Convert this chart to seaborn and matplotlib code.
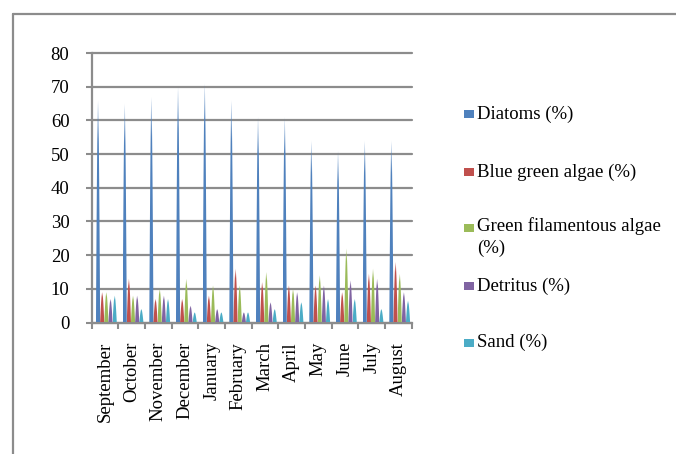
import numpy as np
import pandas as pd
import matplotlib
matplotlib.use("Agg")
import matplotlib.pyplot as plt
from matplotlib.patches import Polygon, Rectangle
from matplotlib.lines import Line2D
from matplotlib.colors import to_rgb
import seaborn as sns

# Monthly diet composition (%)
months = ["September", "October", "November", "December", "January", "February",
          "March", "April", "May", "June", "July", "August"]
series = ["Diatoms (%)", "Blue green algae (%)", "Green filamentous algae (%)",
          "Detritus (%)", "Sand (%)"]
legend_labels = ["Diatoms (%)", "Blue green algae (%)", "Green filamentous algae\n(%)",
                 "Detritus (%)", "Sand (%)"]

diatoms = [66, 65, 67, 70, 71, 66, 61, 61, 54, 51, 54, 54]
blue_green = [9, 13, 7, 7, 8, 16, 12, 11, 11, 9, 14.5, 18]
green_filamentous = [9, 8, 10, 13, 11, 11, 15, 10, 14, 22, 16, 14.5]
detritus = [7, 8, 8, 5, 4, 3, 6, 9, 11, 12.5, 13, 9]
sand = [8, 4, 7, 3, 3, 3, 4, 6, 7, 7, 4, 6.5]

colors = ["#4F81BD", "#C0504D", "#9BBB59", "#8064A2", "#4BACC6"]

df = pd.DataFrame({
    "Month": np.tile(months, len(series)),
    "Series": np.repeat(series, len(months)),
    "Value": np.concatenate([diatoms, blue_green, green_filamentous, detritus, sand]),
})

sns.set_theme(style="white")
plt.rcParams["font.family"] = ["Liberation Serif", "DejaVu Serif"]
plt.rcParams["text.color"] = "black"
plt.rcParams["xtick.color"] = "black"
plt.rcParams["ytick.color"] = "black"

FS = 13.5
W, H = 676, 454
fig = plt.figure(figsize=(W / 100, H / 100), dpi=100)
fig.patch.set_facecolor("white")

# plot area in pixels: x 91.7..411.7, y 53..322.5
ax = fig.add_axes([91.7 / W, (H - 322.5) / H, 320 / W, 269.5 / H])

sns.barplot(data=df, x="Month", y="Value", hue="Series", order=months,
            hue_order=series, palette=colors, width=0.78, errorbar=None,
            legend=False, ax=ax)

# turn each bar into a cone-like spike with a fading tip
shift = 0.05
n = 64
t = np.linspace(0, 1, n)
alpha = np.where(t < 0.82, 1.0, 1.0 - (t - 0.82) / 0.18 * 0.75)
profile_y = np.linspace(0, 1, 40)
profile_w = (1 - profile_y) ** 0.6
for container, color in zip(ax.containers, colors):
    grad = np.zeros((n, 1, 4))
    grad[..., :3] = to_rgb(color)
    grad[:, 0, 3] = alpha
    for bar in container:
        w = bar.get_width()
        xc = bar.get_x() + w / 2 + shift
        h = bar.get_height()
        bar.remove()
        left = np.column_stack([xc - w / 2 * profile_w, h * profile_y])
        right = np.column_stack([xc + w / 2 * profile_w, h * profile_y])[::-1]
        cone = Polygon(np.vstack([left, right]), closed=True,
                       facecolor="none", edgecolor="none")
        ax.add_patch(cone)
        im = ax.imshow(grad, extent=(xc - w / 2, xc + w / 2, 0, h), origin="lower",
                       aspect="auto", interpolation="bilinear", zorder=3)
        im.set_clip_path(cone)

grid_color = "#8c8c8c"
ax.set_xlim(-0.5, len(months) - 0.5)
ax.set_ylim(0, 80)
ax.set_yticks(range(0, 81, 10))
ax.set_xlabel("")
ax.set_ylabel("")
ax.set_axisbelow(True)
ax.grid(axis="y", color=grid_color, lw=1.6)
ax.grid(axis="x", visible=False)
for gl in ax.get_ygridlines():
    gl.set_clip_on(False)

for side in ["top", "right"]:
    ax.spines[side].set_visible(False)
for side in ["left", "bottom"]:
    ax.spines[side].set_color(grid_color)
    ax.spines[side].set_linewidth(1.6)

ax.set_xticks(range(len(months)))
ax.set_xticklabels(months)
ax.set_xticks(np.arange(-0.5, len(months)), minor=True)
ax.tick_params(axis="x", which="major", bottom=True, length=0, pad=14,
               labelsize=FS, labelrotation=90)
ax.tick_params(axis="x", which="minor", bottom=True, length=4, width=1.5,
               color=grid_color, direction="out")
ax.tick_params(axis="y", left=True, length=4, width=1.5, color=grid_color,
               direction="out", pad=12, labelsize=FS)

# legend keys and labels
centers = [114, 172, 228, 286, 342.5]
for label, color, cy in zip(legend_labels, colors, centers):
    fig.add_artist(Rectangle((464 / W, (H - cy - 4) / H), 10 / W, 8 / H,
                             transform=fig.transFigure, facecolor=color,
                             edgecolor="none"))
    if "\n" in label:
        fig.text(477 / W, (H - cy + 11) / H, label, fontsize=FS, va="top",
                 ha="left", linespacing=1.35)
    else:
        fig.text(477 / W, (H - cy) / H, label, fontsize=FS, va="center",
                 ha="left")

# outer frame
fig.add_artist(Line2D([13 / W, 13 / W], [0, (H - 14) / H], transform=fig.transFigure,
                      color=grid_color, lw=1.6))
fig.add_artist(Line2D([13 / W, 1], [(H - 14) / H, (H - 14) / H],
                      transform=fig.transFigure, color=grid_color, lw=1.6))

fig.savefig("out.png", dpi=100)
